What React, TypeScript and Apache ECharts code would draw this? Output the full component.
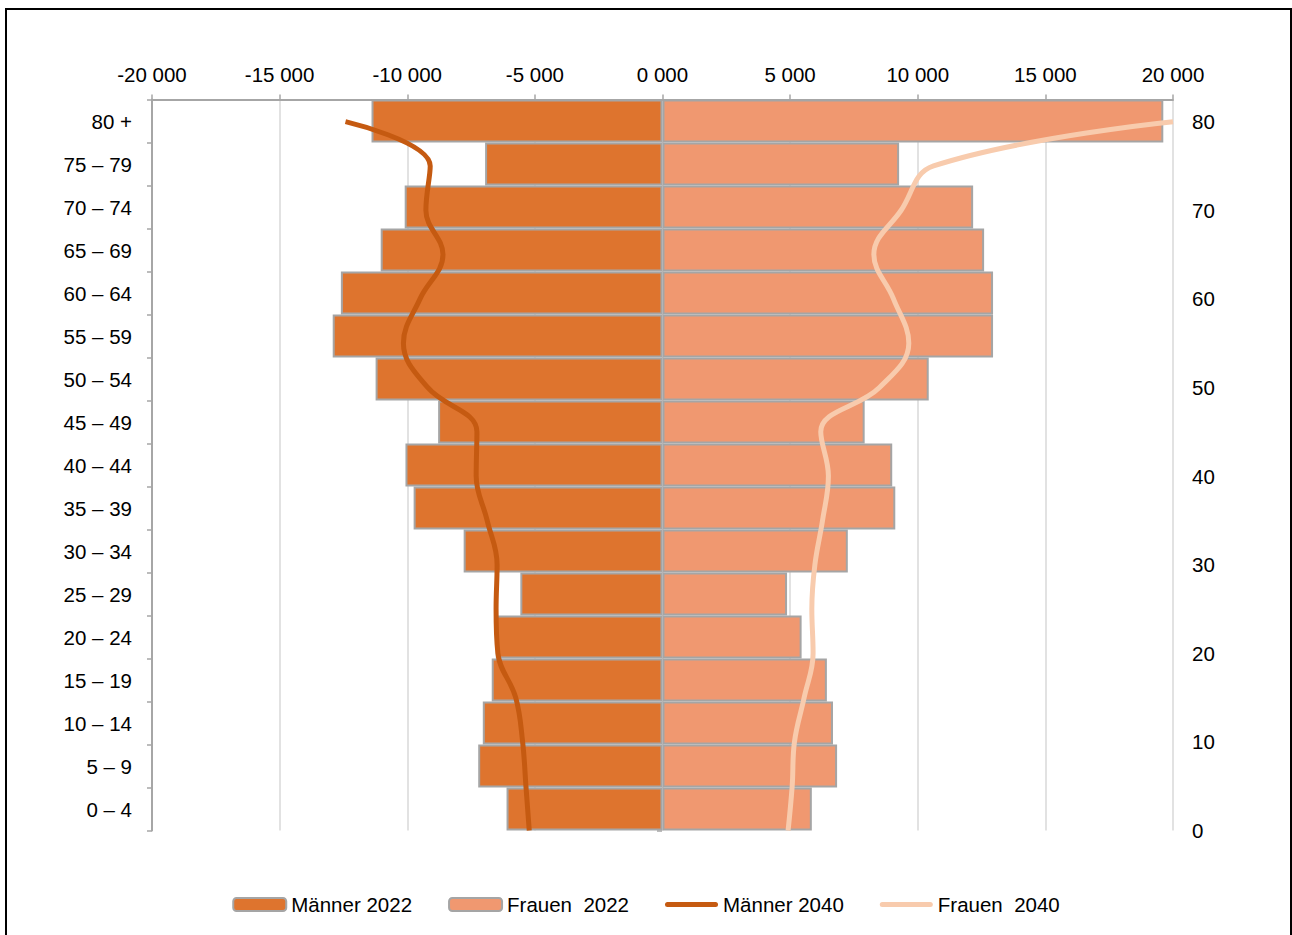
import React, { useEffect, useRef } from "react";
import * as echarts from "echarts";

const categories = ["0 – 4", "5 – 9", "10 – 14", "15 – 19", "20 – 24", "25 – 29", "30 – 34", "35 – 39", "40 – 44", "45 – 49", "50 – 54", "55 – 59", "60 – 64", "65 – 69", "70 – 74", "75 – 79", "80 +"];
const maenner2022 = [-6110, -7220, -7040, -6690, -6530, -5570, -7790, -9750, -10070, -8790, -11240, -12920, -12600, -11040, -10100, -6950, -11400];
const frauen2022 = [5850, 6840, 6680, 6440, 5450, 4880, 7260, 9120, 9000, 7920, 10430, 12950, 12950, 12600, 12170, 9270, 19620];
const ages2040 = [0, 5, 10, 15, 20, 25, 30, 35, 40, 45, 50, 55, 60, 65, 70, 75, 80];
const maenner2040 = [-5220, -5350, -5480, -5750, -6450, -6520, -6480, -6870, -7300, -7270, -9200, -10150, -9500, -8600, -9270, -9100, -12420];
const frauen2040 = [4920, 5080, 5170, 5550, 5900, 5850, 5970, 6270, 6500, 6200, 8500, 9650, 9050, 8280, 9350, 10620, 20000];
const rightTicks = [0, 10, 20, 30, 40, 50, 60, 70, 80];

const FONT = "'Liberation Sans', Arial, sans-serif";
const AXIS_GREY = "#a6a6a6";
const FS = 20.5;
const LINE_ICON = "path://M2.5,0 L50.5,0 A2.5,2.5 0 0 1 50.5,5 L2.5,5 A2.5,2.5 0 0 1 2.5,0 Z";

function fmtX(v: number): string {
  if (v === 0) return "0 000";
  return (v < 0 ? "-" : "") + Math.abs(v) / 1000 + " 000";
}

export default function App() {
  const ref = useRef<HTMLDivElement>(null);
  useEffect(() => {
    if (!ref.current) return;
    const chart = echarts.init(ref.current, undefined, { renderer: "svg" });
    chart.setOption({
      animation: false,
      backgroundColor: "#ffffff",
      textStyle: { fontFamily: FONT },
      grid: { left: 152, right: 119, top: 99.5, bottom: 104.5 },
      legend: {
        bottom: 15,
        left: "center",
        itemWidth: 53,
        itemHeight: 13,
        itemGap: 36,
        textStyle: { fontSize: FS, color: "#000", fontFamily: FONT },
        data: [
          { name: "Männer 2022" },
          { name: "Frauen  2022" },
          { name: "Männer 2040", icon: LINE_ICON, itemStyle: { color: "#c55a11", borderWidth: 0 } },
          { name: "Frauen  2040", icon: LINE_ICON, itemStyle: { color: "#f8cbad", borderWidth: 0 } },
        ],
      },
      xAxis: {
        type: "value",
        position: "top",
        min: -20000,
        max: 20000,
        interval: 5000,
        axisLine: { show: true, onZero: false, lineStyle: { color: AXIS_GREY, width: 2 } },
        axisTick: { show: true, length: 5, lineStyle: { color: AXIS_GREY, width: 1.5 } },
        splitLine: { show: true, lineStyle: { color: "#d9d9d9", width: 1.5 } },
        axisLabel: { formatter: fmtX, fontSize: FS, color: "#000", margin: 15, fontFamily: FONT },
      },
      yAxis: [
        {
          type: "category",
          data: categories,
          boundaryGap: true,
          axisLine: { show: true, onZero: false, lineStyle: { color: AXIS_GREY, width: 2 } },
          axisTick: { show: true, length: 5, lineStyle: { color: AXIS_GREY, width: 1.5 } },
          splitLine: { show: false },
          axisLabel: { fontSize: FS, color: "#000", margin: 20, fontFamily: FONT },
        },
        {
          type: "value",
          position: "right",
          min: 0,
          max: 82.5,
          interval: 10,
          axisLine: { show: false, onZero: false },
          axisTick: { show: false },
          splitLine: { show: false },
          axisLabel: {
            fontSize: FS,
            color: "#000",
            margin: 19,
            fontFamily: FONT,
            customValues: rightTicks,
            formatter: (v: number) => (v % 10 === 0 ? String(v) : ""),
          },
        },
        {
          type: "value",
          position: "left",
          offset: -510,
          min: 0,
          max: 82.5,
          interval: 10,
          axisLine: { show: false, onZero: false },
          axisTick: { show: true, length: 5, customValues: rightTicks, lineStyle: { color: AXIS_GREY, width: 1.5 } },
          splitLine: { show: false },
          axisLabel: { show: false },
        },
      ],
      series: [
        {
          name: "Männer 2022",
          type: "bar",
          data: maenner2022,
          yAxisIndex: 0,
          barCategoryGap: 0,
          barGap: "-100%",
          itemStyle: { color: "#de742e", borderColor: "#a5a5a5", borderWidth: 2 },
          z: 2,
        },
        {
          name: "Frauen  2022",
          type: "bar",
          data: frauen2022,
          yAxisIndex: 0,
          barCategoryGap: 0,
          barGap: "-100%",
          itemStyle: { color: "#f09870", borderColor: "#a5a5a5", borderWidth: 2 },
          z: 2,
        },
        {
          name: "Männer 2040",
          type: "line",
          yAxisIndex: 1,
          data: ages2040.map((a, i) => [maenner2040[i], a]),
          smooth: 0.4,
          showSymbol: false,
          symbol: "none",
          lineStyle: { color: "#c55a11", width: 5 },
          itemStyle: { color: "#c55a11" },
          z: 5,
        },
        {
          name: "Frauen  2040",
          type: "line",
          yAxisIndex: 1,
          data: ages2040.map((a, i) => [frauen2040[i], a]),
          smooth: 0.4,
          showSymbol: false,
          symbol: "none",
          lineStyle: { color: "#f8cbad", width: 5 },
          itemStyle: { color: "#f8cbad" },
          z: 5,
        },
      ],
    });
    return () => chart.dispose();
  }, []);
  return (
    <>
      <div ref={ref} style={{ position: "fixed", left: 0, top: 0, width: 1292, height: 935 }} />
      <div
        style={{
          position: "fixed",
          left: 5,
          top: 8,
          width: 1287,
          height: 940,
          border: "2px solid #000",
          boxSizing: "border-box",
          pointerEvents: "none",
        }}
      />
    </>
  );
}
